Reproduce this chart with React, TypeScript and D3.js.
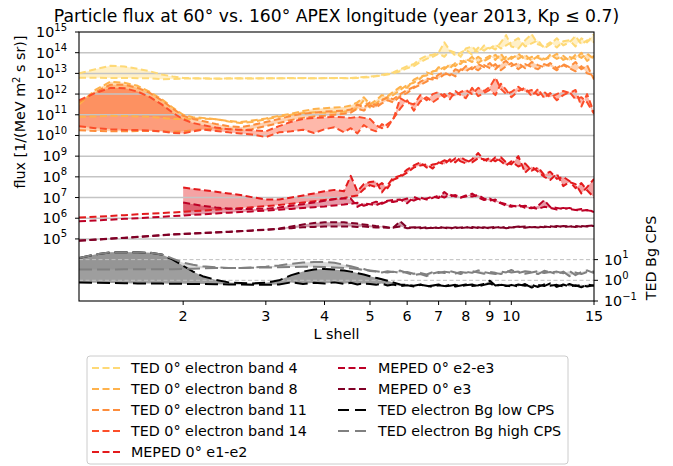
import React from "react";
import * as d3 from "d3";

// L shell grid (shared by all series)
const Lshell = [1.2,1.3,1.4,1.5,1.6,1.7,1.8,1.9,2.0,2.1,2.2,2.35,2.5,2.65,2.8,3.0,3.2,3.4,3.6,3.8,4.0,4.2,4.4,
4.55,4.7,4.85,5.0,5.15,5.3,5.45,5.6,5.8,6.0,6.2,6.4,6.6,6.8,7.0,7.2,7.4,7.6,7.8,8.0,8.25,8.5,8.75,9.0,9.25,9.5,9.75,10.0,10.35,10.7,11.05,11.4,11.75,12.1,12.5,12.9,13.3,13.7,14.1,14.5,15.0];

// log10 of flux [1/(MeV m^2 s sr)]
const band4Lon60 = [13.0,13.2,13.37,13.33,13.22,13.1,12.95,12.85,12.78,12.77,12.76,12.75,12.76,12.77,12.76,12.77,12.76,12.78,12.77,12.76,12.78,12.77,12.78,
12.78,12.8,12.82,12.84,12.88,12.93,12.98,13.05,13.2,13.35,13.45,13.7,13.85,13.9,14.0,14.5,14.1,13.85,14.0,14.15,13.9,14.25,14.1,14.3,14.15,14.5,14.85,14.3,14.2,14.6,14.9,14.4,14.3,14.5,14.25,14.55,14.6,14.3,14.7,14.5,14.9];
const band4Lon160 = [12.79,12.79,12.78,12.78,12.77,12.76,12.72,12.73,12.75,12.76,12.75,12.74,12.75,12.76,12.75,12.76,12.77,12.76,12.78,12.76,12.77,12.78,12.77,
12.76,12.78,12.8,12.82,12.86,12.9,12.95,13.0,13.1,13.25,13.35,13.55,13.7,13.8,13.95,13.8,14.1,14.0,13.8,14.2,14.3,14.0,14.35,14.2,14.4,14.2,14.35,14.5,14.7,14.3,14.45,14.6,14.2,14.4,14.7,14.35,14.5,14.8,14.4,14.6,14.5];
const band8Lon60 = [11.5,12.2,12.6,12.55,12.4,12.1,11.75,11.35,11.0,10.88,10.85,10.78,10.7,10.65,10.72,10.82,10.95,11.05,11.18,11.28,11.32,11.35,11.38,
11.45,11.6,11.85,11.5,11.7,11.95,11.9,12.1,12.35,12.3,12.7,12.85,12.9,13.1,13.15,13.3,13.25,13.5,13.45,13.7,13.55,13.8,13.6,13.75,13.9,13.6,13.8,13.7,13.95,13.65,13.8,13.75,13.6,13.9,13.7,13.85,13.6,13.9,13.75,13.95,13.7];
const band8Lon160 = [10.9,10.92,10.95,10.94,10.92,10.9,10.85,10.8,10.79,10.8,10.82,10.78,10.68,10.6,10.65,10.78,10.9,11.0,11.08,11.12,11.1,11.12,11.15,
11.2,11.3,11.7,11.35,11.55,11.75,11.8,11.95,12.2,12.45,12.55,12.75,13.05,12.95,13.3,13.2,13.45,13.35,13.6,13.55,13.8,13.5,13.7,13.85,13.65,13.95,13.6,13.8,13.7,13.9,13.6,13.85,13.7,13.75,13.95,13.65,13.8,13.7,14.0,13.6,13.85];
const band11Lon60 = [11.6,12.1,12.45,12.45,12.3,12.05,11.7,11.3,10.95,10.8,10.7,10.55,10.45,10.4,10.5,10.65,10.8,10.95,11.05,11.1,11.15,11.18,11.2,
11.25,11.5,11.35,11.6,11.45,11.7,11.85,11.75,12.0,12.2,12.35,12.6,12.75,12.7,12.95,13.05,12.9,13.2,13.1,13.35,13.2,13.45,13.3,13.5,13.2,13.45,13.6,13.35,13.5,13.25,13.55,13.4,13.3,13.5,13.25,13.45,13.3,13.55,13.2,13.4,12.7];
const band11Lon160 = [10.25,10.22,10.2,10.2,10.21,10.22,10.2,10.18,10.2,10.25,10.3,10.32,10.3,10.25,10.3,10.45,10.6,10.75,10.85,10.92,10.95,11.0,11.05,
11.1,11.3,11.2,11.45,11.35,11.55,11.7,11.6,11.9,12.05,12.3,12.45,12.6,12.8,12.75,12.95,13.0,12.85,13.2,13.1,13.3,13.15,13.4,13.25,13.45,13.15,13.35,13.5,13.2,13.45,13.3,13.2,13.45,13.35,13.15,13.4,13.25,13.1,13.35,13.0,12.9];
const band14Lon60 = [11.7,12.05,12.3,12.28,12.12,11.85,11.5,11.1,10.78,10.6,10.5,10.38,10.3,10.28,10.25,10.2,10.45,10.66,10.8,10.85,10.87,10.9,10.88,
10.85,10.9,10.85,10.8,10.5,10.35,10.55,10.75,11.8,11.6,11.5,11.95,11.7,12.0,12.1,11.85,12.05,11.9,12.1,12.2,12.0,12.3,12.15,12.35,12.8,12.25,12.0,12.1,12.35,12.1,12.2,11.95,12.1,11.85,12.0,12.15,12.05,12.2,11.4,12.0,11.1];
const band14Lon160 = [10.45,10.35,10.3,10.27,10.26,10.24,10.2,10.12,10.1,10.2,10.28,10.22,10.15,10.1,10.05,9.92,10.15,10.2,10.28,10.12,10.3,10.4,10.15,
10.35,10.1,10.5,10.3,10.2,10.55,10.4,10.8,11.3,11.7,11.2,11.65,11.85,11.6,11.8,12.0,11.75,12.15,11.95,11.8,12.3,11.9,12.05,12.2,11.95,12.5,12.2,11.85,12.15,12.3,11.9,12.25,11.8,12.05,11.7,11.95,12.1,11.75,11.85,11.6,11.05];
const e12Lon60 = [6.03,6.07,6.11,6.15,6.19,6.22,6.25,6.28,6.31,6.34,6.37,6.41,6.45,6.49,6.53,6.58,6.64,6.7,6.76,6.82,6.88,6.93,6.98,
7.05,7.1,7.4,7.6,7.5,7.7,7.45,7.85,8.0,8.2,8.45,8.55,8.6,8.4,8.7,8.6,8.85,8.7,8.95,8.8,8.7,8.9,8.85,8.7,8.95,8.75,8.55,8.75,8.5,8.65,8.3,8.45,8.1,8.25,7.9,8.0,7.8,7.45,7.7,7.35,7.0];
const e12Lon160 = [null,null,null,null,null,null,null,null,7.49,7.42,7.36,7.28,7.2,7.12,7.02,6.9,6.9,7.0,7.1,7.2,7.3,7.37,7.3,
8.05,7.3,7.65,7.75,7.78,7.25,7.6,7.95,8.05,8.35,8.55,8.7,8.45,8.6,8.65,8.8,8.7,8.9,8.75,8.65,8.85,9.15,8.8,8.9,8.75,8.95,8.7,8.6,9.0,8.2,8.5,8.25,8.0,7.85,8.15,7.55,7.75,7.65,7.2,7.5,7.9];
const e23Lon60 = [5.85,5.89,5.93,5.97,6.0,6.04,6.07,6.1,6.13,6.16,6.19,6.23,6.27,6.3,6.33,6.37,6.41,6.45,6.49,6.53,6.57,6.62,6.66,
6.7,6.75,6.6,6.7,6.8,6.7,6.82,6.78,6.85,6.95,6.85,7.0,6.9,6.98,7.1,7.0,7.15,7.05,7.0,7.1,7.05,7.12,6.95,6.85,6.9,6.75,6.68,6.62,6.55,6.6,6.52,6.45,6.55,6.5,6.42,6.5,6.44,6.4,6.36,6.4,6.3];
const e23Lon160 = [null,null,null,null,null,null,null,null,6.76,6.68,6.6,6.52,6.47,6.45,6.45,6.46,6.52,6.6,6.68,6.76,6.84,6.92,6.95,
6.95,6.55,6.72,6.68,6.63,6.75,6.85,6.88,6.9,6.72,7.03,6.9,6.95,7.05,6.98,7.27,7.05,7.12,7.0,7.05,7.19,7.0,6.88,6.95,6.8,6.72,6.6,6.55,6.65,6.5,6.48,6.6,6.87,6.55,6.5,6.45,6.5,6.4,6.45,6.38,6.34];
const e3Lon60 = [4.92,4.97,5.02,5.06,5.1,5.14,5.18,5.22,5.25,5.27,5.29,5.32,5.35,5.38,5.41,5.45,5.5,5.6,5.7,5.77,5.8,5.81,5.8,
5.77,5.74,5.7,5.66,5.62,5.6,5.56,5.54,5.85,5.55,5.56,5.52,5.56,5.53,5.57,5.54,5.5,5.56,5.52,5.55,5.58,5.53,5.56,5.5,5.55,5.58,5.52,5.56,5.6,5.54,5.58,5.55,5.6,5.57,5.62,5.58,5.6,5.63,5.59,5.62,5.66];
const e3Lon160 = [4.91,4.96,5.01,5.05,5.09,5.13,5.17,5.21,5.24,5.26,5.28,5.31,5.34,5.37,5.4,5.44,5.48,5.52,5.56,5.58,5.6,5.6,5.6,
5.6,5.58,5.6,5.57,5.55,5.56,5.54,5.55,5.6,5.52,5.54,5.56,5.52,5.55,5.53,5.56,5.54,5.52,5.55,5.57,5.53,5.56,5.52,5.55,5.58,5.54,5.57,5.55,5.58,5.6,5.56,5.59,5.57,5.61,5.58,5.62,5.6,5.58,5.62,5.6,5.63];

// log10 of TED background counts per second
const bgLowLon60 = [1.08,1.25,1.35,1.36,1.35,1.33,1.25,1.0,0.7,0.42,0.2,0.02,-0.1,-0.13,-0.15,-0.12,0.0,0.25,0.42,0.52,0.55,0.52,0.47,
0.42,0.35,0.28,0.2,0.12,0.05,-0.02,-0.1,-0.2,-0.22,-0.26,-0.2,-0.3,-0.25,-0.2,-0.3,-0.26,-0.22,-0.28,-0.24,-0.2,-0.3,-0.22,-0.15,-0.28,-0.22,-0.25,-0.3,-0.2,-0.26,-0.22,-0.32,-0.2,-0.26,-0.22,-0.3,-0.18,-0.28,-0.22,-0.3,-0.24];
const bgLowLon160 = [-0.1,-0.12,-0.13,-0.14,-0.15,-0.15,-0.16,-0.17,-0.17,-0.18,-0.18,-0.19,-0.2,-0.2,-0.21,-0.22,-0.2,-0.1,-0.18,-0.12,-0.16,-0.1,-0.17,
-0.12,-0.2,-0.15,-0.18,-0.22,-0.16,-0.25,-0.2,-0.28,-0.24,-0.3,-0.22,-0.26,-0.32,-0.24,-0.28,-0.22,-0.3,-0.25,-0.2,-0.28,-0.24,-0.18,-0.02,-0.25,-0.2,-0.28,-0.22,-0.3,-0.18,-0.35,-0.22,-0.28,-0.15,-0.32,-0.2,-0.3,-0.24,-0.34,-0.2,-0.26];
const bgHighLon60 = [1.08,1.25,1.35,1.36,1.35,1.33,1.25,1.05,0.85,0.75,0.68,0.63,0.6,0.6,0.62,0.66,0.72,0.8,0.86,0.88,0.88,0.85,0.75,
0.68,0.6,0.55,0.45,0.42,0.38,0.44,0.4,0.47,0.35,0.25,0.3,0.2,0.32,0.4,0.35,0.45,0.38,0.3,0.42,0.36,0.48,0.4,0.34,0.3,0.42,0.38,0.5,0.35,0.44,0.4,0.3,0.46,0.38,0.42,0.34,0.45,0.25,0.4,0.48,0.35];
const bgHighLon160 = [0.52,0.52,0.52,0.53,0.53,0.53,0.53,0.54,0.55,0.56,0.58,0.59,0.6,0.6,0.61,0.62,0.63,0.64,0.65,0.65,0.64,0.62,0.6,
0.58,0.55,0.5,0.48,0.44,0.4,0.38,0.42,0.36,0.4,0.32,0.36,0.28,0.4,0.35,0.42,0.38,0.33,0.4,0.36,0.44,0.38,0.32,0.4,0.36,0.3,0.45,0.38,0.42,0.32,0.38,0.44,0.35,0.4,0.3,0.42,0.2,0.38,0.3,0.4,0.42];

const xTicks = [2, 3, 4, 5, 6, 7, 8, 9, 10, 15];
const leftTickExps = [5, 6, 7, 8, 9, 10, 11, 12, 13, 14, 15];
const rightTickExps = [-1, 0, 1];

type Row = (number | null)[];
const fluxSeries: { label: string; color: string; a: Row; b: Row }[] = [
  { label: "TED 0° electron band 4", color: "#fed976", a: band4Lon60, b: band4Lon160 },
  { label: "TED 0° electron band 8", color: "#feb24c", a: band8Lon60, b: band8Lon160 },
  { label: "TED 0° electron band 11", color: "#fd8d3c", a: band11Lon60, b: band11Lon160 },
  { label: "TED 0° electron band 14", color: "#fc4e2a", a: band14Lon60, b: band14Lon160 },
  { label: "MEPED 0° e1-e2", color: "#e31a1c", a: e12Lon60, b: e12Lon160 },
  { label: "MEPED 0° e2-e3", color: "#bd0026", a: e23Lon60, b: e23Lon160 },
  { label: "MEPED 0° e3", color: "#800026", a: e3Lon60, b: e3Lon160 },
];
const bgSeries: { label: string; color: string; a: Row; b: Row; fillAlpha: number }[] = [
  { label: "TED electron Bg low CPS", color: "#000000", a: bgLowLon60, b: bgLowLon160, fillAlpha: 0.38 },
  { label: "TED electron Bg high CPS", color: "#808080", a: bgHighLon60, b: bgHighLon160, fillAlpha: 0.3 },
];

const PL = 79, PR = 594, PT = 32, PB = 301;
const FONT = '"DejaVu Sans", sans-serif';
const FS = 14.3;
const SUP = 10;

export default function App() {
  const x = d3.scaleLog().domain([1.2, 15]).range([PL, PR]);
  const yL = d3.scaleLog().domain([1e2, 1e15]).range([PB, PT]);
  const yR = d3.scaleLog().domain([1e-1, 1e12]).range([PB, PT]);
  const idx = Lshell.map((_, i) => i);

  const mkLine = (arr: Row, y: (v: number) => number) =>
    d3.line<number>()
      .defined((i) => arr[i] != null)
      .x((i) => x(Lshell[i]))
      .y((i) => y(Math.pow(10, arr[i] as number)))(idx) || "";
  const mkArea = (a: Row, b: Row, y: (v: number) => number) =>
    d3.area<number>()
      .defined((i) => a[i] != null && b[i] != null)
      .x((i) => x(Lshell[i]))
      .y0((i) => y(Math.pow(10, b[i] as number)))
      .y1((i) => y(Math.pow(10, a[i] as number)))(idx) || "";

  const fluxDash = "7,3.5";
  const bgDash = "13,5";

  const legendItems = [...fluxSeries.map((s) => ({ ...s, dash: fluxDash })), ...bgSeries.map((s) => ({ ...s, dash: "11,6" }))];

  return (
    <svg width={673} height={466} style={{ position: "absolute", left: 0, top: 0, fontFamily: FONT }}>
      <defs>
        <clipPath id="plotclip">
          <rect x={PL} y={PT} width={PR - PL} height={PB - PT} />
        </clipPath>
      </defs>
      <rect x={0} y={0} width={673} height={466} fill="#ffffff" />
      <text x={(PL + PR) / 2} y={21.5} textAnchor="middle" fontSize={17.2} fill="#000">
        Particle flux at 60° vs. 160° APEX longitude (year 2013, Kp ≤ 0.7)
      </text>
      <g clipPath="url(#plotclip)">
        {fluxSeries.map((s, k) => (
          <path key={"fa" + k} d={mkArea(s.a, s.b, yL)} fill={s.color} fillOpacity={0.4} stroke="none" />
        ))}
        {leftTickExps.slice(0, -1).map((e) => (
          <line key={"g" + e} x1={PL} x2={PR} y1={yL(Math.pow(10, e))} y2={yL(Math.pow(10, e))} stroke="#c4c4c4" strokeWidth={1.5} />
        ))}
        {fluxSeries.map((s, k) => (
          <g key={"fl" + k}>
            <path d={mkLine(s.a, yL)} fill="none" stroke={s.color} strokeWidth={2} strokeDasharray={fluxDash} strokeLinejoin="round" />
            <path d={mkLine(s.b, yL)} fill="none" stroke={s.color} strokeWidth={2} strokeDasharray={fluxDash} strokeLinejoin="round" />
          </g>
        ))}
        {bgSeries.map((s, k) => (
          <path key={"ba" + k} d={mkArea(s.a, s.b, yR)} fill={s.color} fillOpacity={s.fillAlpha} stroke="none" />
        ))}
        {[0, 1].map((e) => (
          <line key={"rg" + e} x1={PL} x2={PR} y1={yR(Math.pow(10, e))} y2={yR(Math.pow(10, e))} stroke="#c0c0c0" strokeWidth={1} strokeDasharray="4,2.5" />
        ))}
        {bgSeries.map((s, k) => (
          <g key={"bl" + k}>
            <path d={mkLine(s.a, yR)} fill="none" stroke={s.color} strokeWidth={2} strokeDasharray={bgDash} strokeLinejoin="round" />
            <path d={mkLine(s.b, yR)} fill="none" stroke={s.color} strokeWidth={2} strokeDasharray={bgDash} strokeLinejoin="round" />
          </g>
        ))}
      </g>
      {/* spines */}
      <rect x={PL} y={PT} width={PR - PL} height={PB - PT} fill="none" stroke="#000" strokeWidth={1.1} />
      {/* x ticks */}
      {xTicks.map((t) => (
        <g key={"xt" + t}>
          <line x1={x(t)} x2={x(t)} y1={PB} y2={PB + 4} stroke="#000" strokeWidth={1} />
          <text x={x(t)} y={PB + 20} textAnchor="middle" fontSize={FS}>{t}</text>
        </g>
      ))}
      <text x={(PL + PR) / 2} y={PB + 38} textAnchor="middle" fontSize={FS}>L shell</text>
      {/* left ticks */}
      {leftTickExps.map((e) => (
        <g key={"lt" + e}>
          <line x1={PL - 4} x2={PL} y1={yL(Math.pow(10, e))} y2={yL(Math.pow(10, e))} stroke="#000" strokeWidth={1} />
          <text x={PL - 12} y={yL(Math.pow(10, e)) + 5} textAnchor="end" fontSize={FS}>
            10<tspan dy={-6.5} fontSize={SUP}>{e}</tspan>
          </text>
        </g>
      ))}
      <text transform={`translate(25,112) rotate(-90)`} textAnchor="middle" fontSize={FS}>
        flux [1/(MeV m<tspan dy={-5} fontSize={SUP}>2</tspan><tspan dy={5}> s sr)]</tspan>
      </text>
      {/* right ticks */}
      {rightTickExps.map((e) => (
        <g key={"rt" + e}>
          <line x1={PR} x2={PR + 4} y1={yR(Math.pow(10, e))} y2={yR(Math.pow(10, e))} stroke="#000" strokeWidth={1} />
          <text x={PR + 10} y={yR(Math.pow(10, e)) + 5} textAnchor="start" fontSize={FS}>
            10<tspan dy={-6.5} fontSize={SUP}>{e < 0 ? "−" + Math.abs(e) : e}</tspan>
          </text>
        </g>
      ))}
      <text transform={`translate(656,258) rotate(-90)`} textAnchor="middle" fontSize={FS}>TED Bg CPS</text>
      {/* legend */}
      <rect x={87} y={356} width={481} height={108} rx={3} fill="#ffffff" fillOpacity={0.8} stroke="#cccccc" strokeWidth={1} />
      {legendItems.map((s, k) => {
        const col = k < 5 ? 0 : 1;
        const row = k < 5 ? k : k - 5;
        const hx = col === 0 ? 92 : 338;
        const tx = col === 0 ? 131 : 378;
        const cy = 368 + row * 21;
        return (
          <g key={"lg" + k}>
            <line x1={hx} x2={hx + 28} y1={cy} y2={cy} stroke={s.color} strokeWidth={2} strokeDasharray={s.dash} />
            <text x={tx} y={cy + 5} fontSize={FS}>{s.label}</text>
          </g>
        );
      })}
    </svg>
  );
}
